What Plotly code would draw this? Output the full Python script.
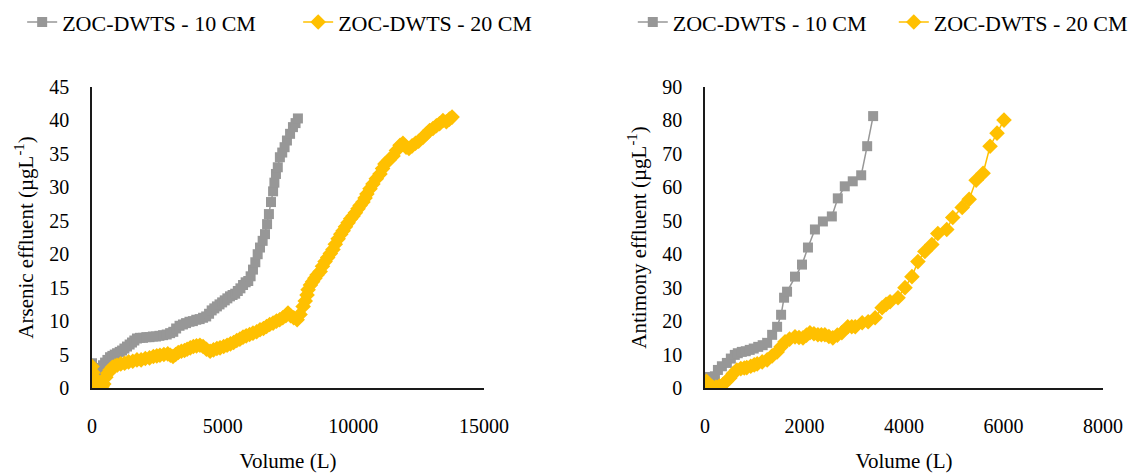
import plotly.graph_objects as go

# ---- Data ----
series_names = ["ZOC-DWTS - 10 CM", "ZOC-DWTS - 20 CM"]

# Left panel: Arsenic
as_10_x = [0, 20, 50, 100, 190, 260, 340, 420, 500, 590, 690, 780, 870, 960, 1060,
           1150, 1240, 1340, 1440, 1530, 1620, 1720, 1830, 1950, 2080, 2200, 2330, 2450,
           2580, 2720, 2860, 2990, 3110, 3220, 3350, 3480, 3600, 3730, 3860, 3990, 4120,
           4250, 4370, 4480, 4580, 4680, 4780, 4880, 4980, 5080, 5180, 5280, 5380, 5480,
           5580, 5680, 5780, 5880, 5980, 6070, 6160, 6250, 6340, 6430, 6530, 6620, 6700,
           6770, 6850, 6930, 6980, 7040, 7110, 7190, 7280, 7370, 7460, 7580, 7690, 7790, 7880]
as_10_y = [3.7, 2.8, 1.8, 1.2, 2.2, 2.6, 3.0, 3.4, 3.8, 4.2, 4.6, 4.8, 5.0, 5.2, 5.4,
           5.6, 5.9, 6.2, 6.5, 6.8, 7.1, 7.4, 7.5, 7.5, 7.6, 7.6, 7.7, 7.7,
           7.8, 7.9, 8.0, 8.2, 8.4, 8.9, 9.3, 9.5, 9.7, 9.9, 10.0, 10.2, 10.3,
           10.5, 10.7, 11.1, 11.6, 11.9, 12.2, 12.5, 12.8, 13.1, 13.4, 13.7, 13.9, 14.1,
           14.5, 14.9, 15.4, 15.8, 16.0, 16.7, 17.7, 18.8, 20.0, 21.0, 22.0, 23.0, 24.5,
           26.0, 27.8, 29.4, 30.7, 32.0, 33.0, 34.5, 35.2, 36.0, 37.0, 38.0, 39.0, 39.6, 40.3]

as_20_x = [0, 30, 60, 100, 160, 230, 300, 380, 450, 530, 610, 690, 780, 880, 960,
           1100, 1250, 1400, 1560, 1720, 1880, 2040, 2200, 2350, 2480, 2600, 2750, 2900,
           3000, 3100, 3200, 3300, 3420, 3540, 3640, 3760, 3880, 4000, 4130, 4250, 4380,
           4520, 4650, 4780, 4900, 5040, 5170, 5300, 5420, 5540, 5660, 5780, 5900, 6030,
           6160, 6300, 6430, 6560, 6680, 6800, 6930, 7060, 7180, 7300, 7420, 7500, 7600,
           7720, 7850, 7960, 8080, 8160, 8230, 8270, 8360, 8440, 8530, 8610, 8730, 8820,
           8920, 9020, 9120, 9220, 9310, 9420, 9520, 9610, 9700, 9800, 9900, 9990, 10080,
           10180, 10260, 10370, 10450, 10520, 10640, 10750, 10880, 11020, 11120, 11210,
           11370, 11520, 11650, 11790, 11900, 12020, 12130, 12250, 12380, 12500, 12670,
           12800, 12920, 13050, 13180, 13300, 13430, 13560, 13680, 13780]
as_20_y = [3.2, 2.3, 1.5, 0.8, 0.4, 1.0, 0.3, 0.2, 0.6, 1.6, 2.2, 2.7, 3.1, 3.3, 3.4,
           3.6, 3.7, 3.9, 4.0, 4.2, 4.2, 4.4, 4.5, 4.7, 4.8, 4.9, 5.0, 5.1,
           4.9, 4.7, 5.0, 5.3, 5.5, 5.6, 5.8, 6.0, 6.2, 6.3, 6.4, 6.2, 5.8,
           5.5, 5.7, 5.9, 6.0, 6.2, 6.4, 6.6, 6.8, 7.1, 7.3, 7.6, 7.8, 8.0,
           8.2, 8.4, 8.7, 8.9, 9.2, 9.5, 9.7, 10.0, 10.2, 10.5, 10.8, 11.2, 10.8,
           10.5, 10.2, 11.0, 12.2, 13.0, 13.9, 14.7, 15.4, 15.9, 16.4, 16.9, 17.4, 18.2,
           18.9, 19.5, 20.1, 20.7, 21.5, 22.3, 23.0, 23.5, 24.1, 24.7, 25.3, 25.7, 26.2,
           26.8, 27.3, 27.8, 28.4, 29.0, 29.8, 30.5, 31.3, 32.0, 32.8, 33.5,
           34.1, 34.7, 35.5, 36.3, 36.6, 36.0, 35.8, 36.2, 36.6, 36.9, 37.5,
           38.0, 38.5, 38.8, 39.2, 39.5, 40.0, 39.8, 40.2, 40.5]

# Right panel: Antimony
sb_10_x = [0, 40, 80, 140, 200, 260, 340, 440, 520, 600, 660, 740, 820, 900, 980,
           1070, 1160, 1250, 1350, 1450, 1530, 1590, 1650, 1810, 1950, 2070, 2210, 2370,
           2550, 2670, 2810, 2970, 3140, 3260, 3380]
sb_10_y = [3.3, 2.6, 2.1, 1.8, 3.5, 5.4, 6.5, 7.5, 8.8, 9.9, 10.4, 10.8, 11.0, 11.4, 11.8,
           12.3, 12.8, 13.5, 15.9, 18.3, 21.9, 27.0, 28.8, 33.3, 36.9, 42.0, 47.4, 49.8,
           51.3, 56.7, 60.3, 61.8, 63.6, 72.3, 81.3]

sb_20_x = [0, 30, 60, 100, 150, 220, 290, 360, 430, 500, 570, 640, 720, 790, 840,
           920, 990, 1050, 1150, 1250, 1350, 1450, 1530, 1610, 1700, 1810, 1890, 1970,
           2040, 2110, 2190, 2270, 2340, 2410, 2490, 2570, 2660, 2750, 2870, 2950, 3020,
           3160, 3280, 3420, 3560, 3640, 3720, 3880, 4020, 4160, 4280, 4420, 4560, 4680,
           4860, 4980, 5170, 5310, 5450, 5590, 5730, 5870, 6010]
sb_20_y = [1.5, 2.0, 1.0, 0.5, 0.3, 0.3, 0.6, 1.0, 2.0, 3.0, 4.3, 5.4, 5.8, 6.0, 6.1,
           6.5, 6.9, 7.2, 7.8, 8.4, 9.6, 10.8, 12.3, 13.8, 14.6, 15.3, 15.1, 15.0,
           15.8, 16.5, 16.2, 15.9, 15.9, 15.9, 15.4, 15.0, 15.8, 16.5, 18.3, 18.3, 18.3,
           19.5, 19.8, 21.0, 24.0, 25.0, 25.8, 27.0, 30.0, 33.3, 37.8, 40.8, 42.9, 46.2,
           47.4, 51.0, 54.0, 56.4, 62.1, 64.2, 72.3, 76.2, 80.1]

left_xticks = [0, 5000, 10000, 15000]
left_yticks = [0, 5, 10, 15, 20, 25, 30, 35, 40, 45]
right_xticks = [0, 2000, 4000, 6000, 8000]
right_yticks = [0, 10, 20, 30, 40, 50, 60, 70, 80, 90]

GRAY = "#979797"
GOLD = "#FFC000"
FONT = "Liberation Serif, Times New Roman, serif"

fig = go.Figure()

def add(x, y, name, color, symbol, size, xa, ya, legend):
    fig.add_trace(go.Scatter(
        x=x, y=y, name=name, mode="lines+markers",
        line=dict(color=color, width=1.5),
        marker=dict(color=color, symbol=symbol, size=size, line=dict(width=0)),
        xaxis=xa, yaxis=ya, legend=legend, showlegend=True))

add(as_10_x, as_10_y, series_names[0], GRAY, "square", 10, "x", "y", "legend")
add(as_20_x, as_20_y, series_names[1], GOLD, "diamond", 12, "x", "y", "legend")
add(sb_10_x, sb_10_y, series_names[0], GRAY, "square", 10, "x2", "y2", "legend2")
add(sb_20_x, sb_20_y, series_names[1], GOLD, "diamond", 12, "x2", "y2", "legend2")

axis_common = dict(showgrid=False, zeroline=False, showline=True, linecolor="#1a1a1a",
                   linewidth=1.5, ticks="", automargin=False,
                   tickfont=dict(family=FONT, size=20, color="black"),
                   title_font=dict(family=FONT, size=21, color="black"))

fig.update_layout(
    width=1131, height=473,
    margin=dict(l=92, r=28, t=87, b=85),
    paper_bgcolor="white", plot_bgcolor="white",
    font=dict(family=FONT, size=20, color="black"),
    xaxis=dict(domain=[0, 0.3877], range=[0, 15000], tickvals=left_xticks,
               ticktext=[str(v) for v in left_xticks],
               ticklabelstandoff=19, title=dict(text="Volume (L)", standoff=27),
               anchor="y", **axis_common),
    yaxis=dict(domain=[0, 1], range=[0, 45], tickvals=left_yticks,
               ticktext=[str(v) for v in left_yticks],
               ticklabelstandoff=17, title=dict(text="Arsenic effluent (µgL<sup>-1</sup>)", standoff=10),
               anchor="x", **axis_common),
    xaxis2=dict(domain=[0.6063, 1], range=[0, 8000], tickvals=right_xticks,
                ticktext=[str(v) for v in right_xticks],
                ticklabelstandoff=19, title=dict(text="Volume (L)", standoff=27),
                anchor="y2", **axis_common),
    yaxis2=dict(domain=[0, 1], range=[0, 90], tickvals=right_yticks,
                ticktext=[str(v) for v in right_yticks],
                ticklabelstandoff=17, title=dict(text="Antimony effluent (µgL<sup>-1</sup>)", standoff=10),
                anchor="x2", **axis_common),
    legend=dict(orientation="h", xref="container", yref="container", x=0.0196, y=0.953,
                xanchor="left", yanchor="middle", font=dict(family=FONT, size=22),
                entrywidth=231, entrywidthmode="pixels", bgcolor="rgba(0,0,0,0)"),
    legend2=dict(orientation="h", xref="container", yref="container", x=0.5595, y=0.953,
                 xanchor="left", yanchor="middle", font=dict(family=FONT, size=22),
                 entrywidth=216, entrywidthmode="pixels", bgcolor="rgba(0,0,0,0)"),
)

fig.write_html("out.html", config={"displayModeBar": False},
               post_script="document.body.style.margin='0';")
